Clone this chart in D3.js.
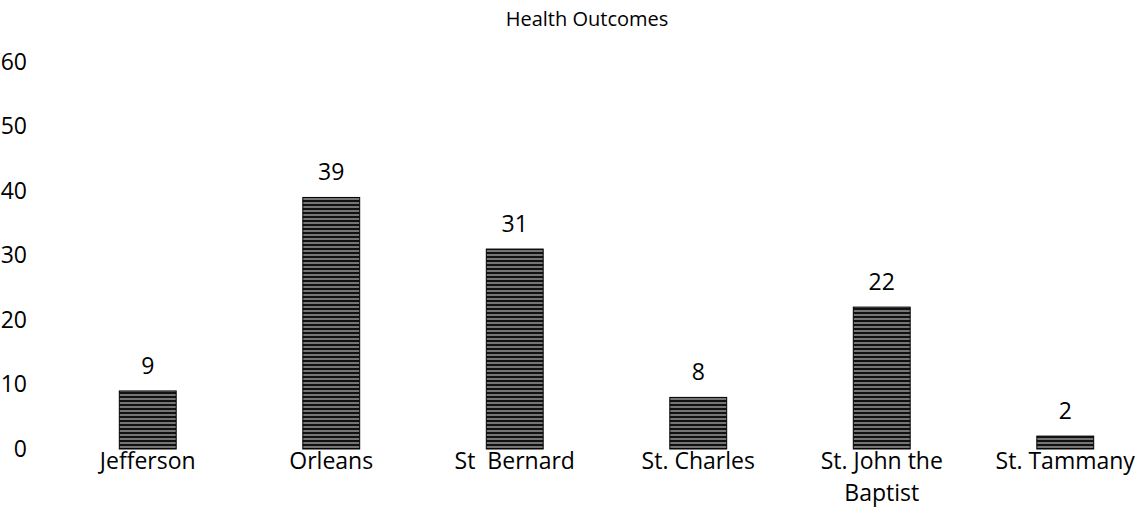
<!DOCTYPE html>
<html>
<head>
<meta charset="utf-8">
<script src="https://cdn.jsdelivr.net/npm/d3@7"></script>
<style>
	body { margin: 0; background: #fff; }
	svg { display: block; font-family: "Open Sans", sans-serif; }
</style>
</head>
<body>
<div id="content"></div>
<script>
let categories = ['Jefferson', 'Orleans', 'St  Bernard', 'St. Charles', 'St. John the Baptist', 'St. Tammany']
let values = [9, 39, 31, 8, 22, 2]
let y_ticks = [0, 10, 20, 30, 40, 50, 60]
let title = 'Health Outcomes'

let WIDTH = 1139
let HEIGHT = 532
let FONT = '23px'

let svg = d3.select('#content').append('svg')
	.attr('width', WIDTH)
	.attr('height', HEIGHT)

// hatch pattern for bars
let defs = svg.append('defs')
let pattern = defs.append('pattern')
	.attr('id', 'hatch')
	.attr('patternUnits', 'userSpaceOnUse')
	.attr('width', 12)
	.attr('height', 4)
pattern.append('rect')
	.attr('width', 12)
	.attr('height', 4)
	.attr('fill', '#111')
pattern.append('rect')
	.attr('y', 2.5)
	.attr('width', 12)
	.attr('height', 1)
	.attr('fill', '#d8d8d8')

let x = d3.scaleBand()
	.domain(categories)
	.range([56, 1157])
	.paddingInner(0.69)
	.paddingOuter(0.345)

let y = d3.scaleLinear()
	.domain([0, 60])
	.range([449, 62])

svg.append('text')
	.attr('x', 587)
	.attr('y', 26)
	.attr('text-anchor', 'middle')
	.style('font-size', '20px')
	.style('fill', '#000')
	.text(title)

let y_axis = svg.append('g')
	.attr('transform', 'translate(27, 0)')
	.call(d3.axisLeft(y).tickValues(y_ticks).tickSize(0).tickPadding(0))
y_axis.select('.domain').remove()
y_axis.attr('font-family', null).attr('font-size', null)
y_axis.selectAll('text')
	.style('font-size', FONT)
	.style('fill', '#000')

svg.selectAll('rect.bar')
	.data(values)
	.enter().append('rect')
		.attr('class', 'bar')
		.attr('x', (d, i) => x(categories[i]))
		.attr('y', (d) => y(d))
		.attr('width', x.bandwidth())
		.attr('height', (d) => y(0) - y(d))
		.attr('fill', 'url(#hatch)')
		.attr('stroke', '#000')
		.attr('stroke-width', 1)

svg.selectAll('text.value')
	.data(values)
	.enter().append('text')
		.attr('class', 'value')
		.attr('x', (d, i) => x(categories[i]) + x.bandwidth() / 2)
		.attr('y', (d) => y(d) - 17)
		.attr('text-anchor', 'middle')
		.style('font-size', FONT)
		.style('fill', '#000')
		.text((d) => d)

// category labels, wrapped like the original (one text per line)
let wrap = { 'St. John the Baptist': ['St. John the', 'Baptist'] }
let lines = []
categories.forEach((c) => {
	(wrap[c] || [c]).forEach((l, i) => lines.push({ cat: c, text: l, row: i }))
})

svg.selectAll('text.cat')
	.data(lines)
	.enter().append('text')
		.attr('class', 'cat')
		.attr('x', (d) => x(d.cat) + x.bandwidth() / 2)
		.attr('y', (d) => 469 + d.row * 32)
		.attr('text-anchor', 'middle')
		.style('font-size', FONT)
		.style('fill', '#000')
		.style('white-space', 'pre')
		.text((d) => d.text)
</script>
</body>
</html>
